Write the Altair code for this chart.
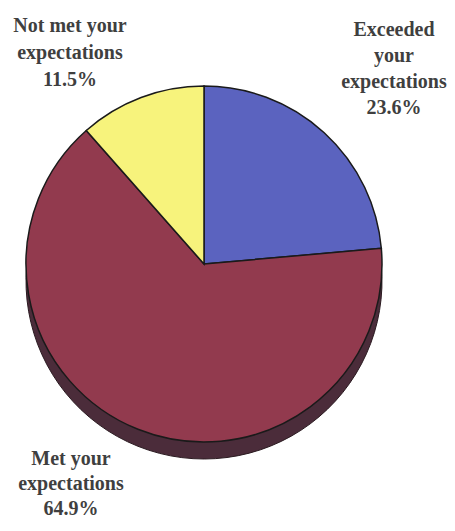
import altair as alt
import pandas as pd

categories = ["Exceeded your expectations", "Met your expectations", "Not met your expectations"]
shares = [23.6, 64.9, 11.5]
order_idx = [0, 1, 2]
colors = ["#5b63bf", "#923a4e", "#f7f37c"]

df = pd.DataFrame({"category": categories, "share": shares, "idx": order_idx})

CX, CY, R = 196, 256, 178
DEPTH = 17

base = alt.Chart(df)

shadow = base.mark_arc(radius=R, color="#4b2c3a", stroke="#2a1a20", strokeWidth=1).encode(
    theta=alt.Theta("share:Q", stack=True),
    order=alt.Order("idx:Q"),
    x=alt.value(CX),
    y=alt.value(CY + DEPTH),
)

pie = base.mark_arc(radius=R, stroke="#1a1a1a", strokeWidth=1.5).encode(
    theta=alt.Theta("share:Q", stack=True),
    order=alt.Order("idx:Q"),
    color=alt.Color("category:N", scale=alt.Scale(domain=categories, range=colors), legend=None),
    x=alt.value(CX),
    y=alt.value(CY),
)

label_lines = [
    ["Not met your", "expectations", "11.5%"],
    ["Exceeded", "your", "expectations", "23.6%"],
    ["Met your", "expectations", "64.9%"],
]
label_pos = [(62, 18, 27), (386, 22, 26), (63, 451, 25)]

texts = []
for lines, (lx, ly, lh) in zip(label_lines, label_pos):
    t = alt.Chart(pd.DataFrame({"t": [lines]})).mark_text(
        font="Times New Roman, Liberation Serif, serif", fontWeight="bold", fontSize=20,
        color="#3f3f3f", lineHeight=lh, align="center", baseline="middle"
    ).encode(text="t", x=alt.value(lx), y=alt.value(ly))
    texts.append(t)

chart = alt.layer(shadow, pie, *texts).properties(
    width=439, height=515, padding=0, autosize=alt.AutoSizeParams(type="none")
).configure_view(stroke=None)

chart.save("out.html", embed_options={"renderer": "svg", "actions": False})
